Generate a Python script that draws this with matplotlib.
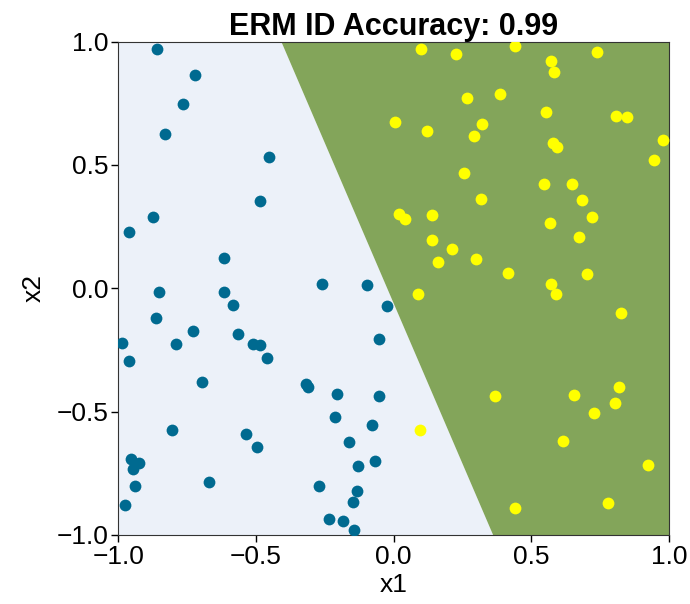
import numpy as np
import matplotlib
matplotlib.use("Agg")
import matplotlib.pyplot as plt

plt.rcParams['font.family'] = ['Liberation Sans', 'DejaVu Sans']

# class 0 (blue) points
blue_x1 = [-0.861, -0.720, -0.764, -0.829, -0.451, -0.485, -0.873, -0.960, -0.615,
           -0.261, -0.098, -0.853, -0.616, -0.584, -0.023, -0.863, -0.728, -0.564,
           -0.052, -0.988, -0.792, -0.510, -0.485, -0.461, -0.960, -0.695, -0.318,
           -0.310, -0.207, -0.054, -0.212, -0.080, -0.806, -0.535, -0.163, -0.495,
           -0.953, -0.926, -0.069, -0.948, -0.130, -0.940, -0.669, -0.272, -0.134,
           -0.146, -0.976, -0.236, -0.183, -0.144]
blue_x2 = [0.970, 0.863, 0.746, 0.625, 0.533, 0.352, 0.290, 0.229, 0.121,
           0.018, 0.015, -0.014, -0.016, -0.068, -0.070, -0.120, -0.175, -0.186,
           -0.204, -0.220, -0.226, -0.226, -0.229, -0.281, -0.296, -0.381, -0.387,
           -0.402, -0.428, -0.437, -0.522, -0.556, -0.573, -0.593, -0.624, -0.642,
           -0.692, -0.708, -0.700, -0.735, -0.719, -0.803, -0.786, -0.800, -0.823,
           -0.868, -0.877, -0.934, -0.945, -0.982]

# class 1 (yellow) points
yellow_x1 = [0.098, 0.226, 0.441, 0.739, 0.571, 0.583, 0.267, 0.387, 0.006, 0.552,
             0.808, 0.849, 0.120, 0.322, 0.293, 0.578, 0.595, 0.979, 0.947, 0.256,
             0.547, 0.647, 0.317, 0.685, 0.021, 0.043, 0.138, 0.720, 0.569, 0.139,
             0.673, 0.211, 0.161, 0.298, 0.417, 0.701, 0.571, 0.090, 0.590, 0.825,
             0.818, 0.369, 0.655, 0.803, 0.728, 0.096, 0.614, 0.923, 0.780, 0.440]
yellow_x2 = [0.970, 0.949, 0.984, 0.957, 0.923, 0.878, 0.772, 0.789, 0.675, 0.713,
             0.700, 0.696, 0.638, 0.665, 0.616, 0.589, 0.571, 0.602, 0.520, 0.466,
             0.421, 0.421, 0.362, 0.356, 0.302, 0.281, 0.296, 0.287, 0.264, 0.194,
             0.208, 0.159, 0.108, 0.117, 0.062, 0.058, 0.018, -0.022, -0.022, -0.099,
             -0.400, -0.437, -0.433, -0.465, -0.504, -0.576, -0.618, -0.716, -0.871, -0.893]

# linear decision boundary w.x + b = 0
w = (2.0, 0.769)
b = 0.049
accuracy = 0.99

fig = plt.figure(figsize=(6.9, 6.04), dpi=100)
ax = fig.add_axes([0.1715, 0.1145, 0.798, 0.8165])

# boundary x1 as function of x2, fill both sides
yy = np.linspace(-1, 1, 200)
xb = -(w[1] * yy + b) / w[0]
ax.fill_betweenx(yy, -1, xb, color='#ecf1f9', linewidth=0)
ax.fill_betweenx(yy, xb, 1, color='#83a55a', linewidth=0)

ax.scatter(blue_x1, blue_x2, s=72, color='#006a90', linewidths=0, zorder=3)
ax.scatter(yellow_x1, yellow_x2, s=72, color='#ffff00', linewidths=0, zorder=3)

ax.set_xlim(-1, 1)
ax.set_ylim(-1, 1)
ax.set_xticks([-1.0, -0.5, 0.0, 0.5, 1.0])
ax.set_yticks([-1.0, -0.5, 0.0, 0.5, 1.0])
ax.tick_params(labelsize=19, length=5, width=1, pad=2)
ax.set_xlabel('x1', fontsize=19, labelpad=3)
ax.set_ylabel('x2', fontsize=19, labelpad=8)
ax.set_title(f'ERM ID Accuracy: {accuracy}', fontsize=22, fontweight='bold', pad=5)
for s in ax.spines.values():
    s.set_color('#333333')

fig.savefig('out.png', dpi=100)
